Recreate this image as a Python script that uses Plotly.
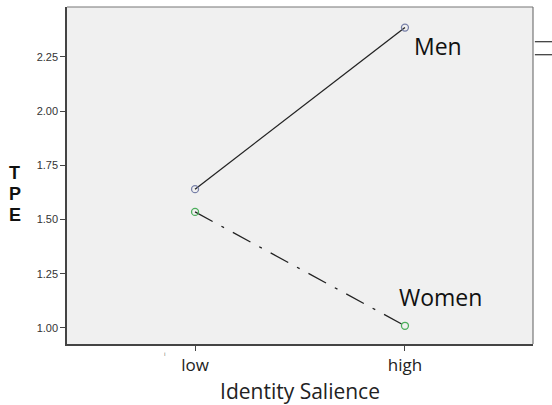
import plotly.graph_objects as go

categories = ["low", "high"]
men = [1.64, 2.385]
women = [1.535, 1.01]
y_ticks = [1.00, 1.25, 1.50, 1.75, 2.00, 2.25]
y_tick_labels = ["1.00", "1.25", "1.50", "1.75", "2.00", "2.25"]

fig = go.Figure()
fig.add_trace(go.Scatter(
    x=[0, 1], y=men, mode="lines+markers", name="Men",
    line=dict(color="#222222", width=1.3),
    marker=dict(symbol="circle-open", size=7, color="#7880a8", line=dict(width=1.3)),
))
fig.add_trace(go.Scatter(
    x=[0, 1], y=women, mode="lines+markers", name="Women",
    line=dict(color="#222222", width=1.3, dash="20px,10px,3px,10px"),
    marker=dict(symbol="circle-open", size=7, color="#4cae5c", line=dict(width=1.3)),
))

fig.add_annotation(x=1, y=men[1], text="Men", showarrow=False, xanchor="left", yanchor="top",
                   xshift=7, yshift=0, font=dict(family="Open Sans", size=23, color="#111111"))
fig.add_annotation(x=1, y=women[1], text="Women", showarrow=False, xanchor="center", yanchor="bottom",
                   xshift=36, yshift=11, font=dict(family="Open Sans", size=23, color="#111111"))

# vertical axis title letters
for i, ch in enumerate(["T", "P", "E"]):
    fig.add_annotation(xref="paper", yref="y", x=-0.112, y=1.713 - i * 0.097, text="<b>" + ch + "</b>",
                       showarrow=False, xanchor="center", yanchor="middle",
                       font=dict(family="Liberation Sans", size=18, color="#111111"))

# small stray mark left of "low"
fig.add_annotation(x=-0.145, y=0.926, yref="y", text="ⁱ", showarrow=False, yanchor="top", yshift=-5,
                   font=dict(family="DejaVu Sans", size=9, color="#777777"))

# small marks outside plot on the right
for yv in [2.32, 2.26]:
    fig.add_shape(type="line", xref="paper", yref="y", x0=1.004, x1=1.045, y0=yv, y1=yv,
                  line=dict(color="#333333", width=1.2))

fig.update_layout(
    width=552, height=405,
    margin=dict(l=67, r=19, t=7, b=61),
    paper_bgcolor="white", plot_bgcolor="#f0f0f0",
    showlegend=False,
    xaxis=dict(
        range=[-0.61, 1.61], tickvals=[0, 1], ticktext=categories,
        ticks="outside", ticklen=5, tickcolor="#444444", tickwidth=1,
        showgrid=False, zeroline=False, automargin=False,
        showline=True, linecolor="#444444", linewidth=1.5, mirror=False,
        tickfont=dict(family="Open Sans", size=17, color="#222222"),
        title=dict(text="Identity Salience", font=dict(family="Open Sans", size=21, color="#222222"), standoff=10),
    ),
    yaxis=dict(
        range=[0.926, 2.48], tickvals=y_ticks, ticktext=y_tick_labels,
        ticks="outside", ticklen=5, tickcolor="#444444", tickwidth=1,
        showgrid=False, zeroline=False, automargin=False,
        showline=True, linecolor="#444444", linewidth=1.5,
        tickfont=dict(family="Liberation Sans", size=11, color="#333333"),
    ),
)
# top and right border
fig.add_shape(type="line", xref="paper", yref="paper", x0=0, x1=1, y0=1, y1=1, line=dict(color="#777777", width=1.2))
fig.add_shape(type="line", xref="paper", yref="paper", x0=1, x1=1, y0=0, y1=1, line=dict(color="#777777", width=1.2))

fig.write_html("out.html", config={"displayModeBar": False},
               post_script="document.body.style.margin='0';")
